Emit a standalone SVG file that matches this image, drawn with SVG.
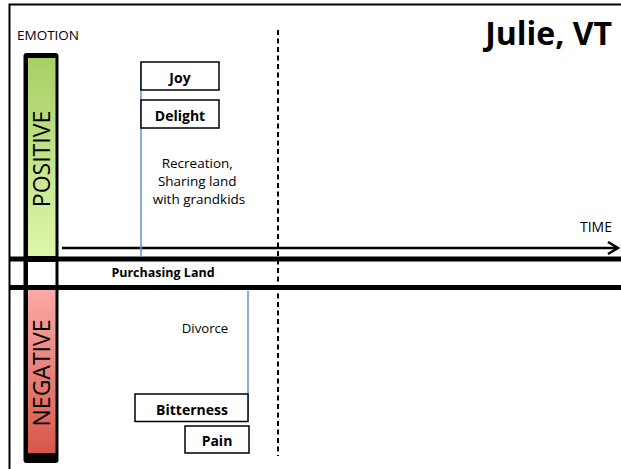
<svg xmlns="http://www.w3.org/2000/svg" width="621" height="469" viewBox="0 0 621 469">
  <style>
    .lbl { font-family: "Open Sans", "Liberation Sans", sans-serif; fill: #000; }
    .bold { font-weight: bold; }
    .box { fill: #fff; stroke: #000; stroke-width: 1.5; }
    .event { stroke: #6a9bd3; stroke-width: 1.6; fill: none; }
    .band { stroke: #000; stroke-width: 5; }
  </style>
  <defs>
    <linearGradient id="gPos" x1="0" y1="0" x2="0" y2="1">
      <stop offset="0" stop-color="#a7cf66"/>
      <stop offset="1" stop-color="#def6ab"/>
    </linearGradient>
    <linearGradient id="gNeg" x1="0" y1="0" x2="0" y2="1">
      <stop offset="0" stop-color="#faaaa6"/>
      <stop offset="1" stop-color="#d8574a"/>
    </linearGradient>
    <marker id="chev" markerWidth="14" markerHeight="16" refX="11" refY="7" orient="auto" markerUnits="userSpaceOnUse">
      <path d="M1,1 L11,7 L1,13" fill="none" stroke="#000" stroke-width="2.5"/>
    </marker>
  </defs>

  <rect width="621" height="469" fill="#fff"/>
  <!-- frame -->
  <rect x="9.5" y="4.5" width="630" height="480" fill="none" stroke="#000" stroke-width="2"/>

  <text class="lbl" x="17" y="40" font-size="13.5">EMOTION</text>
  <text class="lbl bold" x="612" y="45" font-size="32" text-anchor="end">Julie, VT</text>
  <text class="lbl" x="612" y="232" font-size="14" text-anchor="end">TIME</text>

  <!-- emotion scale -->
  <g id="scale">
    <rect x="23.5" y="53" width="35" height="410" rx="3" fill="#000"/>
    <rect x="28" y="58" width="27.5" height="198" fill="url(#gPos)"/>
    <rect x="28" y="262" width="27.5" height="23" fill="#fff"/>
    <rect x="28" y="290" width="27.5" height="163" fill="url(#gNeg)"/>
    <text class="lbl" transform="translate(50,159) rotate(-90)" font-size="23" text-anchor="middle">POSITIVE</text>
    <text class="lbl" transform="translate(50,373) rotate(-90)" font-size="23" text-anchor="middle">NEGATIVE</text>
  </g>

  <!-- axes and separators -->
  <g id="connectors">
    <line x1="62" y1="248" x2="618" y2="248" stroke="#000" stroke-width="2.5" marker-end="url(#chev)"/>
    <line class="band" x1="10" y1="259" x2="621" y2="259"/>
    <line class="band" x1="10" y1="287.5" x2="621" y2="287.5"/>
    <line x1="278" y1="30" x2="278" y2="456" stroke="#000" stroke-width="2" stroke-dasharray="5,3.5"/>
    <line class="event" x1="141" y1="62" x2="141" y2="257"/>
    <line class="event" x1="248" y1="291" x2="248" y2="417"/>
  </g>

  <g id="joy">
    <rect class="box" x="141" y="62" width="78" height="28"/>
    <text class="lbl bold" x="180" y="83" font-size="14" text-anchor="middle">Joy</text>
  </g>
  <g id="delight">
    <rect class="box" x="141" y="100" width="78" height="28"/>
    <text class="lbl bold" x="180" y="121" font-size="14" text-anchor="middle">Delight</text>
  </g>
  <g id="recreation">
    <text class="lbl" font-size="13.5" text-anchor="middle">
      <tspan x="199" y="167.5">Recreation,</tspan>
      <tspan x="199" y="185.5">Sharing land</tspan>
      <tspan x="199" y="203.5">with grandkids</tspan>
    </text>
  </g>
  <g id="purchasing">
    <text class="lbl bold" x="163" y="277" font-size="12.5" text-anchor="middle">Purchasing Land</text>
  </g>
  <g id="divorce">
    <text class="lbl" x="205" y="333" font-size="13.2" text-anchor="middle">Divorce</text>
  </g>
  <g id="bitterness">
    <rect class="box" x="135" y="394" width="113" height="27.5"/>
    <text class="lbl bold" x="192" y="415" font-size="14" text-anchor="middle">Bitterness</text>
  </g>
  <g id="pain">
    <rect class="box" x="185" y="426" width="64" height="27"/>
    <text class="lbl bold" x="217" y="446" font-size="14" text-anchor="middle">Pain</text>
  </g>
</svg>
